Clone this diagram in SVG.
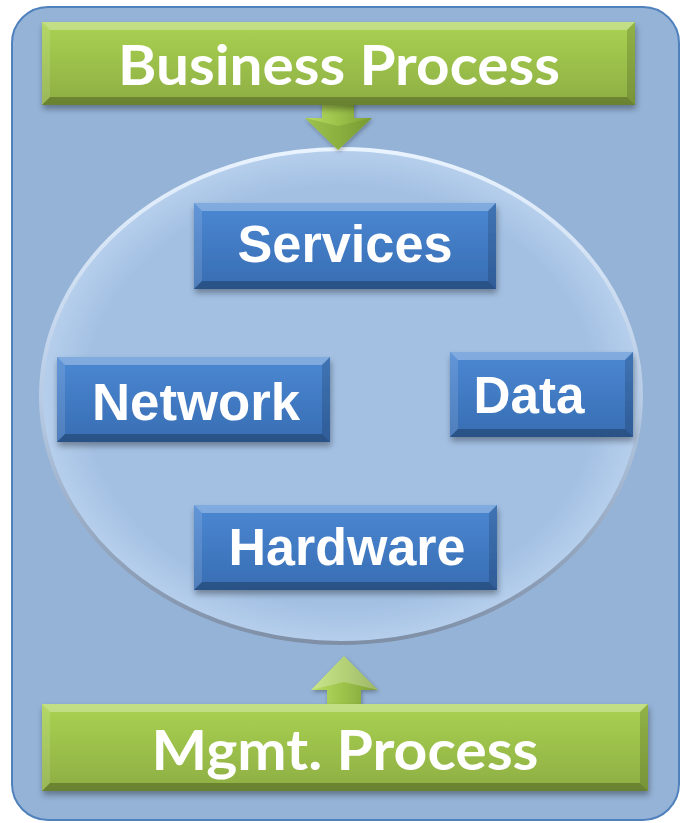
<svg xmlns="http://www.w3.org/2000/svg" width="681" height="823" viewBox="0 0 681 823">
<defs>
<linearGradient id="gBlue" x1="0" y1="0" x2="0" y2="1"><stop offset="0" stop-color="#4B88D3"/><stop offset="1" stop-color="#386DB3"/></linearGradient>
<linearGradient id="gGreen" x1="0" y1="0" x2="0" y2="1"><stop offset="0" stop-color="#AAD252"/><stop offset="1" stop-color="#8DAE43"/></linearGradient>
<linearGradient id="gArrow" x1="0" y1="0" x2="1" y2="0"><stop offset="0" stop-color="#B9DC63"/><stop offset="0.5" stop-color="#9CC24A"/><stop offset="1" stop-color="#7E9F36"/></linearGradient>
<linearGradient id="gEllStroke" x1="0" y1="0" x2="0" y2="1"><stop offset="0" stop-color="#EAF4FF"/><stop offset="0.5" stop-color="#B8CCE6"/><stop offset="1" stop-color="#7E8FA6"/></linearGradient>
<radialGradient id="gEll" cx="0.5" cy="0.5" r="0.5"><stop offset="0.85" stop-color="#A3C0E3"/><stop offset="1" stop-color="#B6CFEC"/></radialGradient>
<filter id="sh" x="-10%" y="-10%" width="120%" height="130%"><feDropShadow dx="1" dy="4" stdDeviation="3" flood-color="#000" flood-opacity="0.35"/></filter>
<filter id="ash" x="-20%" y="-20%" width="140%" height="140%"><feDropShadow dx="1" dy="2" stdDeviation="2" flood-color="#000" flood-opacity="0.3"/></filter>
</defs>
<style>
.blue{fill:url(#gBlue)}
.green{fill:url(#gGreen)}
.bt{fill:#fff;fill-opacity:0.3}
.bl{fill:#fff;fill-opacity:0.12}
.br{fill:#000;fill-opacity:0.15}
.bb{fill:#000;fill-opacity:0.25}
.lbl{font-family:"Liberation Sans",Arial,sans-serif;font-weight:bold;font-size:51px;fill:#fff;text-anchor:middle}
.glbl{font-family:Lato,"Open Sans",sans-serif;font-weight:bold;font-size:56px;fill:#fff;text-anchor:middle}
</style>
<rect x="12" y="7" width="667" height="813" rx="36" fill="#95B3D7" stroke="#4F81BD" stroke-width="2"/>
<ellipse id="ring" cx="341" cy="396" rx="300" ry="247" fill="url(#gEll)" stroke="url(#gEllStroke)" stroke-width="4"/>
<g id="connectors">
<polygon points="322,96 354,96 354,118 372,118 338,150 305,118 322,118" fill="url(#gArrow)" filter="url(#ash)"/>
<polygon points="305,118 338,126 372,118 338,150" fill="#6E8E2C" fill-opacity="0.35"/>
<polygon points="344,656 378,690 361,690 361,712 327,712 327,690 311,690" fill="url(#gArrow)" filter="url(#ash)"/>
<polygon points="344,656 378,690 344,682 311,690" fill="#fff" fill-opacity="0.25"/>
</g>
<g id="business" filter="url(#sh)">
<rect x="42" y="22" width="593" height="83" class="green"/>
<polygon class="bt" points="42,22 635,22 627,30 50,30"/>
<polygon class="bl" points="42,22 50,30 50,97 42,105"/>
<polygon class="br" points="635,22 627,30 627,97 635,105"/>
<polygon class="bb" points="42,105 635,105 627,97 50,97"/>
<text class="glbl" x="339" y="85" textLength="442" lengthAdjust="spacingAndGlyphs">Business Process</text>
</g>
<g id="services" filter="url(#sh)">
<rect x="194" y="203" width="302" height="86" class="blue"/>
<polygon class="bt" points="194,203 496,203 488,211 202,211"/>
<polygon class="bl" points="194,203 202,211 202,281 194,289"/>
<polygon class="br" points="496,203 488,211 488,281 496,289"/>
<polygon class="bb" points="194,289 496,289 488,281 202,281"/>
<text class="lbl" x="345" y="262" textLength="215" lengthAdjust="spacingAndGlyphs">Services</text>
</g>
<g id="network" filter="url(#sh)">
<rect x="57" y="357" width="273" height="85" class="blue"/>
<polygon class="bt" points="57,357 330,357 322,365 65,365"/>
<polygon class="bl" points="57,357 65,365 65,434 57,442"/>
<polygon class="br" points="330,357 322,365 322,434 330,442"/>
<polygon class="bb" points="57,442 330,442 322,434 65,434"/>
<text class="lbl" x="196" y="420" textLength="208" lengthAdjust="spacingAndGlyphs">Network</text>
</g>
<g id="data" filter="url(#sh)">
<rect x="450" y="352" width="183" height="85" class="blue"/>
<polygon class="bt" points="450,352 633,352 625,360 458,360"/>
<polygon class="bl" points="450,352 458,360 458,429 450,437"/>
<polygon class="br" points="633,352 625,360 625,429 633,437"/>
<polygon class="bb" points="450,437 633,437 625,429 458,429"/>
<text class="lbl" x="529" y="413" textLength="111" lengthAdjust="spacingAndGlyphs">Data</text>
</g>
<g id="hardware" filter="url(#sh)">
<rect x="194" y="505" width="303" height="85" class="blue"/>
<polygon class="bt" points="194,505 497,505 489,513 202,513"/>
<polygon class="bl" points="194,505 202,513 202,582 194,590"/>
<polygon class="br" points="497,505 489,513 489,582 497,590"/>
<polygon class="bb" points="194,590 497,590 489,582 202,582"/>
<text class="lbl" x="347" y="565" textLength="237" lengthAdjust="spacingAndGlyphs">Hardware</text>
</g>
<g id="mgmt" filter="url(#sh)">
<rect x="42" y="704" width="606" height="87" class="green"/>
<polygon class="bt" points="42,704 648,704 640,712 50,712"/>
<polygon class="bl" points="42,704 50,712 50,783 42,791"/>
<polygon class="br" points="648,704 640,712 640,783 648,791"/>
<polygon class="bb" points="42,791 648,791 640,783 50,783"/>
<text class="glbl" x="345" y="770" textLength="387" lengthAdjust="spacingAndGlyphs">Mgmt. Process</text>
</g>
</svg>
